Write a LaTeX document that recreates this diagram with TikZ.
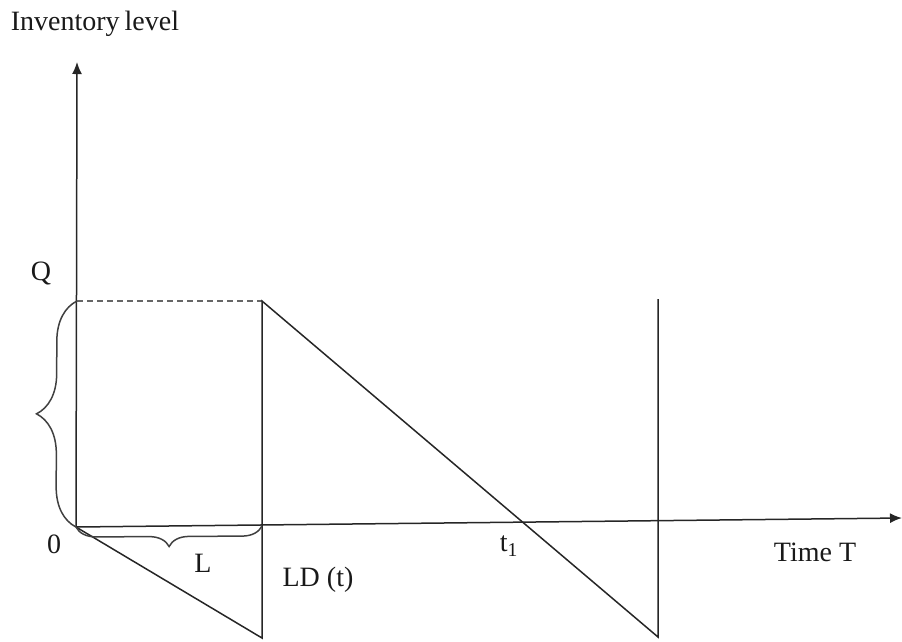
\documentclass[tikz,border=0pt]{standalone}
\usepackage{fontspec}
\setmainfont{Liberation Serif}
\usetikzlibrary{arrows.meta,decorations.pathreplacing}
\begin{document}
\begin{tikzpicture}[x=1pt,y=-1pt,
  ln/.style={line width=1.5pt,draw=black!85},
  lbl/.style={font=\fontsize{28}{32}\selectfont,inner sep=0pt,text=black!90},
  axarrow/.style={ln,-{Latex[length=12pt,width=10pt]}},
  brc/.style={line width=1.5pt,draw=black!75,decorate,decoration={brace,amplitude=#1}}]
\useasboundingbox (0,0) rectangle (902,641);
% key points
\coordinate (O) at (76,527);
\coordinate (Ytop) at (77,62);
\coordinate (Xend) at (902,518);
\coordinate (Qy) at (77,301);
\coordinate (A) at (262,301);
\coordinate (Aax) at (262,526);
\coordinate (B) at (262,638);
\coordinate (C) at (658,299);
\coordinate (D) at (658,637);
% axes
\draw[axarrow] (O) -- (Ytop);
\draw[axarrow] (O) -- (Xend);
% dashed level
\draw[line width=1.5pt,draw=black!60,dash pattern=on 6pt off 4pt] (Qy) -- (A);
% profile
\draw[ln] (O) -- (B) -- (A) -- (D) -- (C);
% braces
\draw[brc=40] (O) -- (Qy);
\draw[brc=20] (Aax) -- (O);
% labels
\node[lbl] (inv) at (95,24) {Inventory\hspace{-2pt} level};
\node[lbl] (q) at (41,273) {Q};
\node[lbl] (zero) at (54,544) {0};
\node[lbl] (l) at (203,563) {L};
\node[lbl] (ld) at (318,580) {LD (t)};
\node[lbl] (t1) at (509,546) {t\textsubscript{1}};
\node[lbl] (time) at (815,552) {Time T};
\end{tikzpicture}
\end{document}
